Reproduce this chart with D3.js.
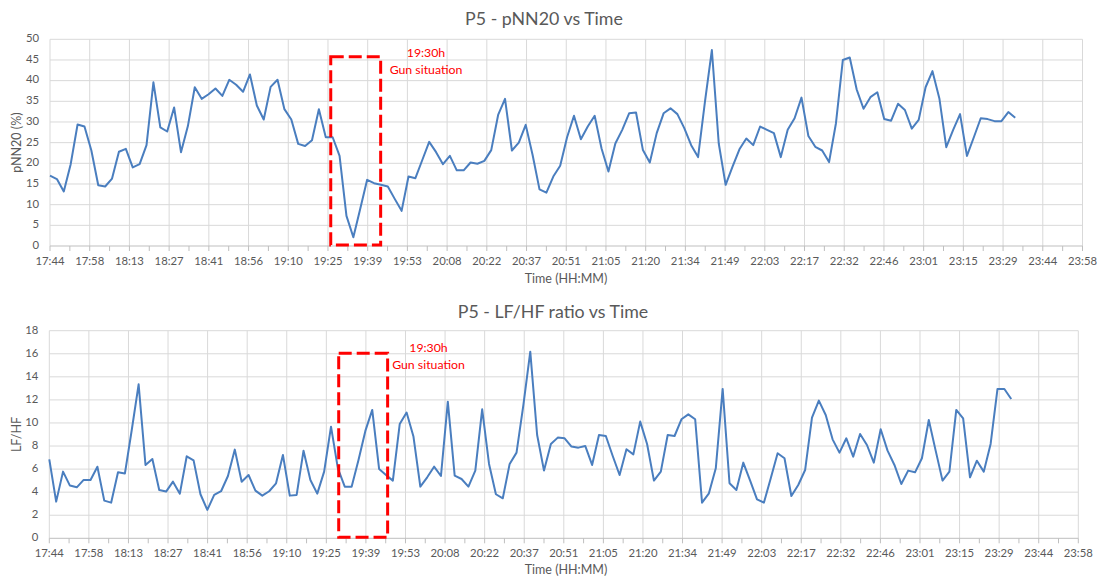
<!DOCTYPE html>
<html>
<head>
<meta charset="utf-8">
<script src="https://cdn.jsdelivr.net/npm/d3@7"></script>
<style>
  html, body { margin: 0; padding: 0; background: #ffffff; }
  svg { display: block; }
  text { font-family: Lato, "Open Sans", sans-serif; }
</style>
</head>
<body>
<svg id="chart" width="1097" height="579"></svg>
<script>
// ---------------- data ----------------
const sampleTimes = [
  "17:44:00","17:46:30","17:49:00","17:51:30","17:54:00","17:56:30","17:59:00","18:01:30",
  "18:04:00","18:06:30","18:09:00","18:11:30","18:14:00","18:16:30","18:19:00","18:21:30",
  "18:24:00","18:26:30","18:29:00","18:31:30","18:34:00","18:36:30","18:39:00","18:41:30",
  "18:44:00","18:46:30","18:49:00","18:51:30","18:54:00","18:56:30","18:59:00","19:01:30",
  "19:04:00","19:06:30","19:09:00","19:11:30","19:14:00","19:16:30","19:19:00","19:21:30",
  "19:24:00","19:26:30","19:29:00","19:31:30","19:34:00","19:36:30","19:39:00","19:41:30",
  "19:44:00","19:46:30","19:49:00","19:51:30","19:54:00","19:56:30","19:59:00","20:01:30",
  "20:04:00","20:06:30","20:09:00","20:11:30","20:14:00","20:16:30","20:19:00","20:21:30",
  "20:24:00","20:26:30","20:29:00","20:31:30","20:34:00","20:36:30","20:39:00","20:41:30",
  "20:44:00","20:46:30","20:49:00","20:51:30","20:54:00","20:56:30","20:59:00","21:01:30",
  "21:04:00","21:06:30","21:09:00","21:11:30","21:14:00","21:16:30","21:19:00","21:21:30",
  "21:24:00","21:26:30","21:29:00","21:31:30","21:34:00","21:36:30","21:39:00","21:41:30",
  "21:44:00","21:46:30","21:49:00","21:51:30","21:54:00","21:56:30","21:59:00","22:01:30",
  "22:04:00","22:06:30","22:09:00","22:11:30","22:14:00","22:16:30","22:19:00","22:21:30",
  "22:24:00","22:26:30","22:29:00","22:31:30","22:34:00","22:36:30","22:39:00","22:41:30",
  "22:44:00","22:46:30","22:49:00","22:51:30","22:54:00","22:56:30","22:59:00","23:01:30",
  "23:04:00","23:06:30","23:09:00","23:11:30","23:14:00","23:16:30","23:19:00","23:21:30",
  "23:24:00","23:26:30","23:29:00","23:31:30","23:34:00"
];

const pnn20 = [
  17.0,16.2,13.2,19.8,29.4,28.9,23.1,14.7,14.4,16.3,22.8,23.5,19.0,19.8,24.4,39.6,
  28.7,27.7,33.5,22.7,29.0,38.4,35.6,36.7,38.1,36.3,40.2,39.0,37.3,41.5,34.0,30.6,
  38.5,40.2,33.1,30.6,24.7,24.2,25.6,33.1,26.3,26.3,21.8,7.3,2.1,9.0,16.0,15.2,
  14.8,14.4,11.4,8.5,16.8,16.4,20.8,25.2,22.7,19.8,21.8,18.3,18.3,20.2,19.9,20.6,
  23.2,31.7,35.6,23.1,25.0,29.3,22.0,13.7,12.9,16.8,19.4,26.3,31.5,25.8,28.9,31.5,
  23.6,18.0,24.8,28.1,32.1,32.3,23.2,20.2,27.3,32.1,33.3,31.9,28.5,24.4,21.5,34.9,
  47.4,24.8,14.8,19.2,23.4,26.0,24.4,28.9,28.1,27.3,21.5,28.1,30.9,35.9,26.6,24.0,
  23.1,20.3,29.7,45.0,45.6,37.9,33.2,36.0,37.2,30.7,30.3,34.4,32.9,28.4,30.5,38.4,
  42.3,35.7,23.9,28.1,31.9,21.8,26.3,30.9,30.7,30.2,30.2,32.4,31.0
];

const lfhf = [
  6.85,3.18,5.78,4.57,4.42,5.06,5.06,6.21,3.27,3.09,5.72,5.61,9.39,13.35,6.36,6.88,
  4.19,4.05,4.91,3.87,7.11,6.76,3.82,2.46,3.76,4.08,5.40,7.69,4.91,5.49,4.13,3.70,
  4.08,4.77,7.23,3.70,3.76,7.60,5.06,3.87,5.78,9.68,6.07,4.48,4.48,6.79,9.31,11.13,
  6.01,5.49,5.00,9.91,10.90,8.82,4.48,5.29,6.21,5.40,11.85,5.43,5.14,4.48,5.87,11.18,
  6.45,3.82,3.47,6.45,7.43,11.56,16.18,8.96,5.87,8.18,8.73,8.67,7.95,7.86,8.01,6.36,
  8.96,8.87,7.14,5.49,7.72,7.28,10.12,8.18,5.00,5.78,8.96,8.87,10.32,10.75,10.32,3.09,
  3.90,6.07,12.95,4.77,4.19,6.56,5.00,3.38,3.09,5.20,7.37,6.94,3.67,4.62,5.92,10.46,
  11.94,10.69,8.58,7.43,8.67,7.08,9.05,8.09,6.56,9.45,7.60,6.36,4.71,5.87,5.72,6.94,
  10.26,7.60,5.00,5.78,11.13,10.40,5.29,6.73,5.78,8.18,12.95,12.95,12.08
];

const xTickLabels = [
  "17:44","17:58","18:13","18:27","18:41","18:56","19:10","19:25","19:39","19:53",
  "20:08","20:22","20:37","20:51","21:05","21:20","21:34","21:49","22:03","22:17",
  "22:32","22:46","23:01","23:15","23:29","23:44","23:58"
];
const pnnTicks = [0,5,10,15,20,25,30,35,40,45,50];
const lfhfTicks = [0,2,4,6,8,10,12,14,16,18];

const eventLabel = ["19:30h", "Gun situation"];

// ---------------- helpers ----------------
const TEXT = "#595959";
const GRID = "#d9d9d9";
const LINE = "#4a7ebf";

function toMin(s) {
  const p = s.split(":").map(Number);
  return p[0] * 60 + p[1] + (p[2] || 0) / 60;
}
const t0 = toMin(sampleTimes[0]);
const minutes = sampleTimes.map(s => toMin(s) - t0);
const majorStep = 14.4;                       // 0.01 day
const axisMax = majorStep * (xTickLabels.length - 1);

const svg = d3.select("#chart");

function drawPanel(cfg) {
  const x = d3.scaleLinear().domain([0, axisMax]).range([cfg.left, cfg.right]);
  const y = d3.scaleLinear().domain([0, cfg.yMax]).range([cfg.bottom, cfg.top]);
  const g = svg.append("g");

  g.selectAll("line.hg").data(cfg.yTicks.filter(v => v > 0)).join("line")
    .attr("x1", cfg.left).attr("x2", cfg.right)
    .attr("y1", d => y(d)).attr("y2", d => y(d))
    .attr("stroke", GRID).attr("stroke-width", 1);

  const majors = xTickLabels.map((l, i) => i * majorStep);
  g.selectAll("line.vg").data(majors).join("line")
    .attr("x1", d => x(d)).attr("x2", d => x(d))
    .attr("y1", cfg.top).attr("y2", cfg.bottom)
    .attr("stroke", GRID).attr("stroke-width", 1);

  const minors = d3.range(0, xTickLabels.length * 2 - 1).map(i => i * majorStep / 2);
  g.append("line")
    .attr("x1", cfg.left).attr("x2", cfg.right)
    .attr("y1", cfg.bottom).attr("y2", cfg.bottom)
    .attr("stroke", "#bfbfbf").attr("stroke-width", 1);
  g.selectAll("line.tk").data(minors).join("line")
    .attr("x1", d => x(d)).attr("x2", d => x(d))
    .attr("y1", cfg.bottom).attr("y2", cfg.bottom + 5)
    .attr("stroke", "#bfbfbf").attr("stroke-width", 1);

  g.selectAll("text.xl").data(xTickLabels).join("text")
    .attr("x", (d, i) => x(i * majorStep))
    .attr("y", cfg.bottom + 16)
    .attr("text-anchor", "middle")
    .attr("dominant-baseline", "middle")
    .attr("font-size", 11.3).attr("fill", TEXT)
    .text(d => d);

  g.selectAll("text.yl").data(cfg.yTicks).join("text")
    .attr("x", cfg.left - 11)
    .attr("y", d => y(d))
    .attr("text-anchor", "end")
    .attr("dominant-baseline", "middle")
    .attr("font-size", 11.3).attr("fill", TEXT)
    .text(d => d);

  g.append("text").attr("x", cfg.titleX).attr("y", cfg.titleY)
    .attr("text-anchor", "middle").attr("dominant-baseline", "middle")
    .attr("font-size", 17.8).attr("fill", TEXT).text(cfg.title);
  g.append("text").attr("x", cfg.xTitleX).attr("y", cfg.xTitleY)
    .attr("text-anchor", "middle").attr("dominant-baseline", "middle")
    .attr("font-size", 12.5).attr("fill", TEXT).text("Time (HH:MM)");
  g.append("text")
    .attr("transform", `translate(18,${(cfg.top + cfg.bottom) / 2}) rotate(-90)`)
    .attr("text-anchor", "middle").attr("dominant-baseline", "middle")
    .attr("font-size", 12.5).attr("fill", TEXT).text(cfg.yTitle);

  const line = d3.line().x((d, i) => x(minutes[i])).y(d => y(d));
  g.append("path").datum(cfg.values)
    .attr("d", line)
    .attr("fill", "none").attr("stroke", LINE)
    .attr("stroke-width", 2).attr("stroke-linejoin", "round");

  const bx0 = x(cfg.box[0]), bx1 = x(cfg.box[1]);
  const by0 = y(cfg.box[2]), by1 = y(0) - 1;
  g.append("rect")
    .attr("x", bx0).attr("y", by0)
    .attr("width", bx1 - bx0).attr("height", by1 - by0)
    .attr("fill", "none").attr("stroke", "#ff0000")
    .attr("stroke-width", 3).attr("stroke-dasharray", "13,5");
  g.append("text").attr("x", cfg.labelX).attr("y", cfg.labelY)
    .attr("text-anchor", "middle").attr("dominant-baseline", "middle")
    .attr("font-size", 12.3).attr("fill", "#ff0000").text(eventLabel[0]);
  g.append("text").attr("x", cfg.labelX).attr("y", cfg.labelY + 16.5)
    .attr("text-anchor", "middle").attr("dominant-baseline", "middle")
    .attr("font-size", 12.3).attr("fill", "#ff0000").text(eventLabel[1]);
}

drawPanel({
  left: 50, right: 1082.5, top: 39.3, bottom: 246,
  yMax: 50, yTicks: pnnTicks, values: pnn20,
  title: "P5 - pNN20 vs Time", titleX: 544, titleY: 20,
  xTitleX: 566, xTitleY: 280, yTitle: "pNN20 (%)",
  box: [101.8, 119.9, 45.8], labelX: 426, labelY: 54
});

drawPanel({
  left: 49.3, right: 1078.3, top: 330.7, bottom: 538.3,
  yMax: 18, yTicks: lfhfTicks, values: lfhf,
  title: "P5 - LF/HF ratio vs Time", titleX: 553, titleY: 313,
  xTitleX: 566, xTitleY: 571, yTitle: "LF/HF",
  box: [105.3, 123.1, 16.04], labelX: 428.5, labelY: 349
});
</script>
</body>
</html>
